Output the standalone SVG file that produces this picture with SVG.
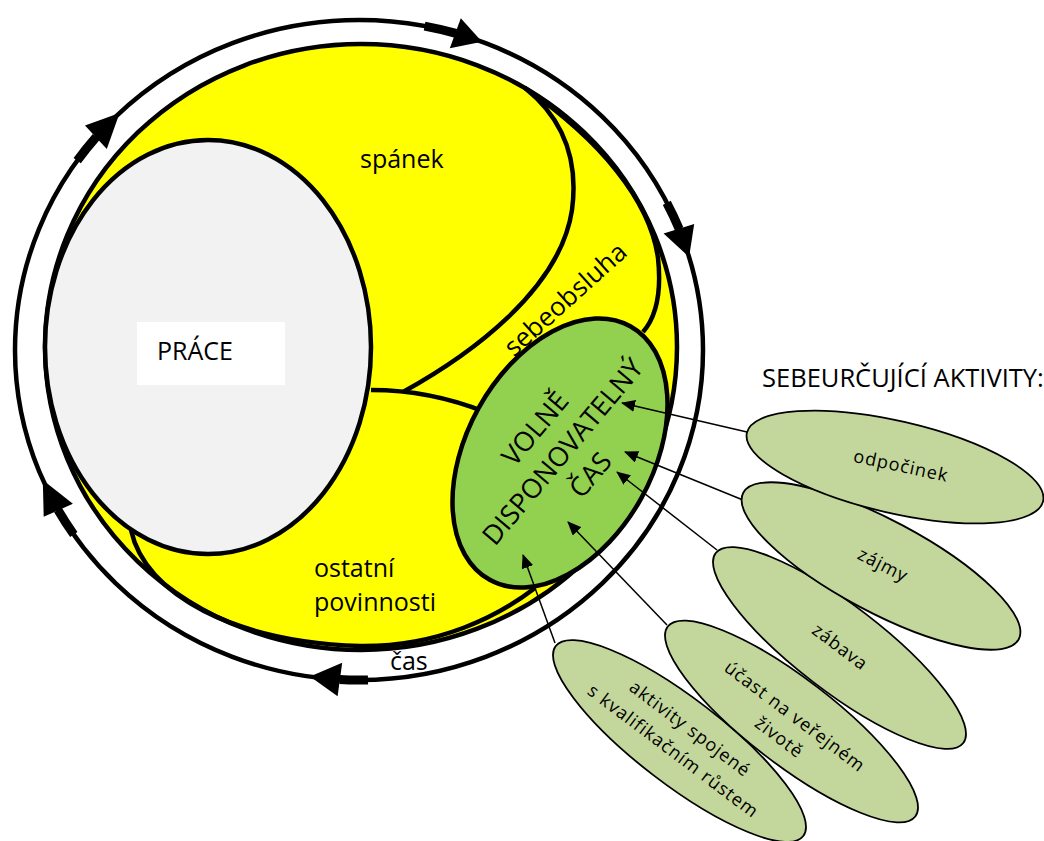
<svg xmlns="http://www.w3.org/2000/svg" width="1044" height="841" viewBox="0 0 1044 841">
<defs>
<marker id="ah" markerWidth="14" markerHeight="12" refX="13" refY="6" orient="auto" markerUnits="userSpaceOnUse"><path d="M0,0 L14,6 L0,12 z" fill="#000"/></marker>
</defs>
<style>
text{font-family:"Open Sans","Noto Sans","Liberation Sans",sans-serif;fill:#000}
.big{font-size:25px}
.grn{font-size:27px}
.lbl{font-size:18px;letter-spacing:1px}
.thick{fill:none;stroke:#000;stroke-width:4.5}
.oval{fill:#C3D69B;stroke:#000;stroke-width:1.8}
.conn{stroke:#000;stroke-width:1.5;fill:none;marker-end:url(#ah)}
.ring{fill:#fff;stroke:#000;stroke-width:4.5}
.head{fill:#000}
.shaft{stroke:#000;stroke-width:9;fill:none}
</style>
<rect width="1044" height="841" fill="#fff"/>
<g id="cycle-ring">
<ellipse class="ring" cx="359" cy="350" rx="344" ry="330"/>
</g>
<g id="yellow-day">
<ellipse cx="361" cy="347" rx="316" ry="303" fill="#FFFF00" stroke="#000" stroke-width="4.5"/>
</g>
<g id="region-lines">
<path class="thick" d="M403 392 C470 355,560 290,572 210 C580 150,555 112,525 88"/>
<path class="thick" d="M525 88 C600 140,650 200,658 258 C662 295,655 318,643 332"/>
<path class="thick" d="M371 390 Q430 390 485 412"/>
<path class="thick" d="M131 530 C145 595,235 642,360 646 C440 647,500 615,535 588"/>
</g>
<g id="prace">
<ellipse cx="208" cy="347" rx="163" ry="207" fill="#F2F2F2" stroke="#000" stroke-width="4.5"/>
<rect x="137" y="322" width="148" height="63" fill="#fff"/>
<text class="big" x="157" y="360">PRÁCE</text>
</g>
<g id="spanek"><text class="big" x="360" y="168">spánek</text></g>
<g id="sebeobsluha"><text class="big" style="font-size:26px" text-anchor="middle" transform="translate(566,300) rotate(-42)" y="8">sebeobsluha</text></g>
<g id="ostatni"><text class="big" x="314" y="577">ostatní</text><text class="big" x="314" y="611">povinnosti</text></g>
<g id="volny-cas">
<ellipse cx="560" cy="453" rx="145" ry="93" transform="rotate(-61 560 453)" fill="#92D050" stroke="#000" stroke-width="4.5"/>
<g transform="translate(563,452) rotate(-50)" text-anchor="middle">
<text class="grn" y="-27">VOLNĚ</text>
<text class="grn" y="9">DISPONOVATELNÝ</text>
<text class="grn" y="45">ČAS</text>
</g>
</g>
<g id="ring-arrows">
<path class="shaft" d="M424.6 26.1 A344 330 0 0 1 456 33.4"/>
<polygon class="head" points="460.8,18.2 482,41.8 449.8,48.2"/>
<path class="shaft" d="M666.8 202.8 A344 330 0 0 1 679.2 229"/>
<polygon class="head" points="694.2,224 689.1,257 663.6,233.4"/>
<path class="shaft" d="M368 679.9 A344 330 0 0 1 339.5 679.5"/>
<polygon class="head" points="337.6,696.3 310,676.6 342.2,662.7"/>
<path class="shaft" d="M73.8 534.5 A344 330 0 0 1 58 510"/>
<polygon class="head" points="43.7,516.8 42.8,480 72.9,503.8"/>
<path class="shaft" d="M77.2 160.7 A344 330 0 0 1 96.2 137"/>
<polygon class="head" points="85,125.6 119.6,113 106.8,149"/>
<text class="big" x="390" y="670">čas</text>
</g>
<g id="title"><text class="big" style="font-size:25.5px" x="762" y="387">SEBEURČUJÍCÍ AKTIVITY:</text></g>
<g id="connectors">
<line class="conn" x1="747" y1="432" x2="622" y2="403"/>
<line class="conn" x1="743" y1="500" x2="625" y2="452"/>
<line class="conn" x1="717" y1="550" x2="617" y2="472"/>
<line class="conn" x1="667" y1="625" x2="568" y2="522"/>
<line class="conn" x1="555" y1="643" x2="523" y2="555"/>
</g>
<g id="aktivity">
<ellipse class="oval" cx="679.5" cy="741" rx="156" ry="43" transform="rotate(37.5 679.5 741)"/>
<g transform="translate(681.5,740) rotate(37)" text-anchor="middle"><text class="lbl" y="-8">aktivity spojené</text><text class="lbl" y="20">s kvalifikačním růstem</text></g>
</g>
<g id="ucast">
<ellipse class="oval" cx="791.5" cy="721.5" rx="156" ry="43" transform="rotate(37.5 791.5 721.5)"/>
<g transform="translate(787,727) rotate(37)" text-anchor="middle"><text class="lbl" y="-7">účast na veřejném</text><text class="lbl" y="19">životě</text></g>
</g>
<g id="zabava">
<ellipse class="oval" cx="839.5" cy="648" rx="156" ry="43" transform="rotate(37.5 839.5 648)"/>
<text class="lbl" text-anchor="middle" transform="translate(840,647) rotate(37)" y="6">zábava</text>
</g>
<g id="zajmy">
<ellipse class="oval" cx="881" cy="566" rx="156" ry="46" transform="rotate(28 881 566)"/>
<text class="lbl" text-anchor="middle" transform="translate(883,565) rotate(27)" y="6">zájmy</text>
</g>
<g id="odpocinek">
<ellipse class="oval" cx="895" cy="467" rx="152" ry="46" transform="rotate(13 895 467)"/>
<text class="lbl" text-anchor="middle" transform="translate(901,466) rotate(12)" y="6">odpočinek</text>
</g>
</svg>
